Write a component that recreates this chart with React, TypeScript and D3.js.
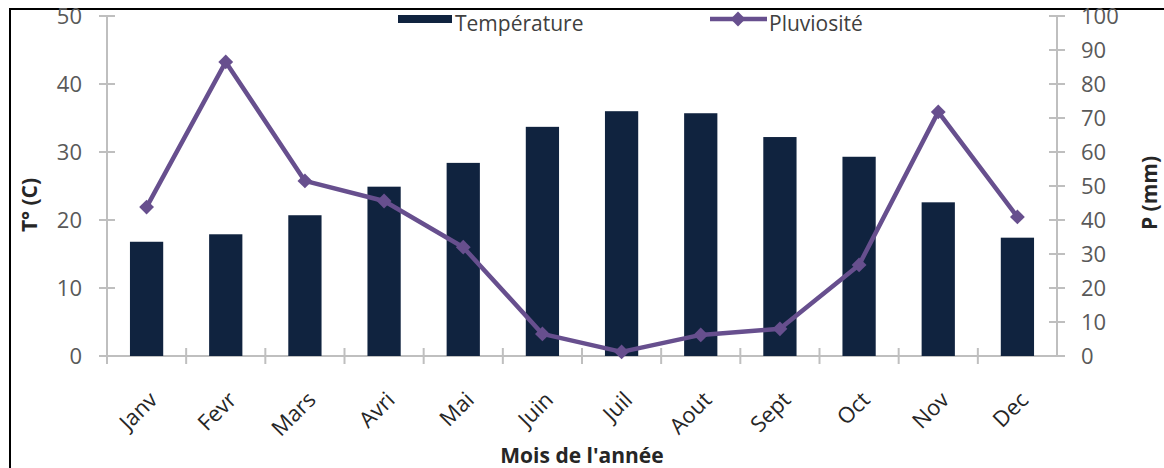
import { useEffect, useRef } from "react"
import * as d3 from "d3"

const months = ["Janv", "Fevr", "Mars", "Avri", "Mai", "Juin", "Juil", "Aout", "Sept", "Oct", "Nov", "Dec"]
const temperature = [16.8, 17.9, 20.7, 24.9, 28.4, 33.7, 36.0, 35.7, 32.2, 29.3, 22.6, 17.4]
const rainfall = [43.8, 86.5, 51.5, 45.6, 32.0, 6.5, 1.2, 6.2, 8.0, 26.8, 71.8, 40.9]
const tempTicks = [0, 10, 20, 30, 40, 50]
const rainTicks = [0, 10, 20, 30, 40, 50, 60, 70, 80, 90, 100]

export default function App() {
  const svgRef = useRef<SVGSVGElement>(null)

  useEffect(() => {
    if (!svgRef.current) return
    const svg = d3.select(svgRef.current)
    svg.selectAll("*").remove()

    const left = 107
    const right = 1057
    const top = 16
    const bottom = 356
    const font = "'Open Sans', 'Liberation Sans', sans-serif"
    const axisGray = "#bfbfbf"
    const textGray = "#595959"
    const barColor = "#10233f"
    const lineColor = "#674f8e"

    const x = d3.scaleBand<string>().domain(months).range([left, right]).paddingInner(0.58).paddingOuter(0.29)
    const xOuter = d3.scaleBand<string>().domain(months).range([left, right])
    const yT = d3.scaleLinear().domain([0, 50]).range([bottom, top])
    const yP = d3.scaleLinear().domain([0, 100]).range([bottom, top])

    // frame
    svg.append("rect")
      .attr("x", 10).attr("y", 9).attr("width", 1170).attr("height", 480)
      .style("fill", "none").style("stroke", "#000").style("stroke-width", 2)

    // left axis
    svg.append("line").attr("x1", left).attr("x2", left).attr("y1", top).attr("y2", bottom)
      .style("stroke", axisGray).style("stroke-width", 2)
    tempTicks.forEach(t => {
      svg.append("line").attr("x1", left - 8).attr("x2", left + 8).attr("y1", yT(t)).attr("y2", yT(t))
        .style("stroke", axisGray).style("stroke-width", 2)
      svg.append("text").attr("x", 82).attr("y", yT(t)).attr("dy", "0.36em")
        .attr("text-anchor", "end").style("font-family", font).style("font-size", "22px")
        .style("fill", textGray).text(t)
    })

    // right axis
    svg.append("line").attr("x1", right).attr("x2", right).attr("y1", top).attr("y2", bottom)
      .style("stroke", axisGray).style("stroke-width", 2)
    rainTicks.forEach(t => {
      svg.append("line").attr("x1", right - 8).attr("x2", right + 8).attr("y1", yP(t)).attr("y2", yP(t))
        .style("stroke", axisGray).style("stroke-width", 2)
      svg.append("text").attr("x", 1081).attr("y", yP(t)).attr("dy", "0.36em")
        .attr("text-anchor", "start").style("font-family", font).style("font-size", "22px")
        .style("fill", textGray).text(t)
    })

    // bottom axis
    svg.append("line").attr("x1", left - 8).attr("x2", right + 8).attr("y1", bottom).attr("y2", bottom)
      .style("stroke", axisGray).style("stroke-width", 2)
    months.forEach(m => {
      const bx = xOuter(m)!
      svg.append("line").attr("x1", bx).attr("x2", bx).attr("y1", bottom - 8).attr("y2", bottom + 8)
        .style("stroke", axisGray).style("stroke-width", 2)
    })

    // bars
    svg.selectAll(".bar").data(months).enter().append("rect")
      .attr("x", d => x(d)!)
      .attr("y", (d, i) => yT(temperature[i]))
      .attr("width", x.bandwidth())
      .attr("height", (d, i) => bottom - yT(temperature[i]))
      .style("fill", barColor)

    // line
    const cx = (m: string) => xOuter(m)! + xOuter.bandwidth() / 2
    const line = d3.line<number>().x((d, i) => cx(months[i])).y(d => yP(d))
    svg.append("path").datum(rainfall).attr("d", line)
      .style("fill", "none").style("stroke", lineColor).style("stroke-width", 4.5)
      .style("stroke-linejoin", "round")
    const diamond = d3.symbol().type(d3.symbolSquare).size(110)
    rainfall.forEach((v, i) => {
      svg.append("path").attr("d", diamond)
        .attr("transform", `translate(${cx(months[i])},${yP(v)}) rotate(45)`)
        .style("fill", lineColor)
    })

    // x labels
    months.forEach(m => {
      const px = cx(m) + 1
      const py = 390
      svg.append("text").attr("x", px).attr("y", py)
        .attr("transform", `rotate(-45,${px},${py})`)
        .attr("text-anchor", "end").attr("dy", "0.72em")
        .style("font-family", font).style("font-size", "22px").style("fill", "#262626")
        .text(m)
    })

    // axis titles
    svg.append("text").attr("x", 582).attr("y", 463).attr("text-anchor", "middle")
      .style("font-family", font).style("font-size", "21px").style("font-weight", "bold")
      .style("fill", "#262626").text("Mois de l'année")
    svg.append("text").attr("transform", "translate(37,205) rotate(-90)").attr("text-anchor", "middle")
      .style("font-family", font).style("font-size", "21px").style("font-weight", "bold")
      .style("fill", "#262626").text("T° (C)")
    svg.append("text").attr("transform", "translate(1157,193) rotate(-90)").attr("text-anchor", "middle")
      .style("font-family", font).style("font-size", "21px").style("font-weight", "bold")
      .style("fill", "#262626").text("P (mm)")

    // legend
    svg.append("rect").attr("x", 398).attr("y", 15).attr("width", 54).attr("height", 8).style("fill", barColor)
    svg.append("text").attr("x", 455).attr("y", 31)
      .style("font-family", font).style("font-size", "21px").style("fill", "#404040").text("Température")
    svg.append("line").attr("x1", 710).attr("x2", 767).attr("y1", 19).attr("y2", 19)
      .style("stroke", lineColor).style("stroke-width", 4.5)
    svg.append("path").attr("d", diamond).attr("transform", "translate(738,19) rotate(45)").style("fill", lineColor)
    svg.append("text").attr("x", 769).attr("y", 31)
      .style("font-family", font).style("font-size", "21px").style("fill", "#404040").text("Pluviosité")
  }, [])

  return (
    <svg ref={svgRef} width={1164} height={468}
      style={{ position: "fixed", left: 0, top: 0, background: "#fff" }} />
  )
}
